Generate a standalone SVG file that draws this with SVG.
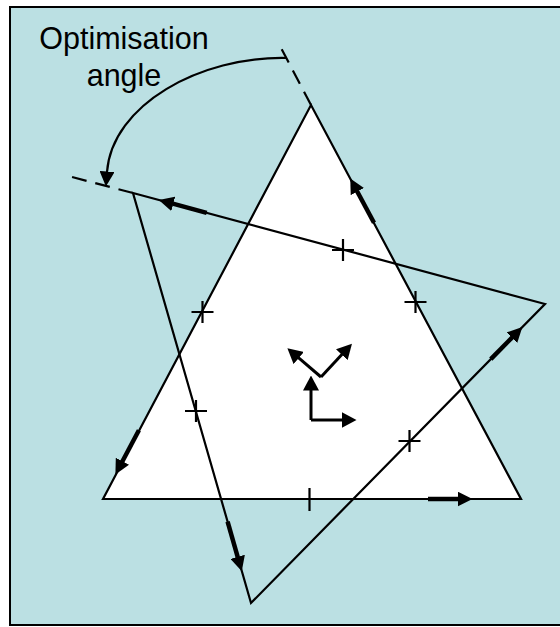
<svg xmlns="http://www.w3.org/2000/svg" width="560" height="627" viewBox="0 0 560 627">
<defs>
<style>
.edge{fill:none;stroke:#000;stroke-width:2.2;stroke-linejoin:miter}
.thick{fill:none;stroke:#000;stroke-width:4.5;marker-end:url(#ah)}
.axis{fill:none;stroke:#000;stroke-width:3;marker-end:url(#ax)}
.dash{fill:none;stroke:#000;stroke-width:2.2;stroke-dasharray:15 9}
.cross{fill:none;stroke:#000;stroke-width:2.2}
.lbl{font-family:"Liberation Sans",Arial,sans-serif;font-size:30.5px;fill:#000;text-anchor:middle}
</style>
<marker id="ah" viewBox="0 0 15 15" refX="0.5" refY="7.5" markerWidth="15" markerHeight="15" markerUnits="userSpaceOnUse" orient="auto">
<path d="M0,0L15,7.5L0,15z" fill="#000"/>
</marker>
<marker id="ax" viewBox="0 0 15 16" refX="0.5" refY="8" markerWidth="15" markerHeight="16" markerUnits="userSpaceOnUse" orient="auto">
<path d="M0,0L15,8L0,16z" fill="#000"/>
</marker>
</defs>
<rect id="frame" x="10" y="7" width="560" height="618" fill="#BBE0E3" stroke="#000" stroke-width="2"/>
<g id="original-triangle">
<polygon class="edge" points="103,499 311,105 521,499" style="fill:#fff"/>
</g>
<g id="rotated-triangle">
<polygon class="edge" points="133,193 545,304 251,603"/>
</g>
<g id="label">
<text class="lbl" x="124" y="49">Optimisation</text>
<text class="lbl" x="124" y="86">angle</text>
</g>
<g id="crosses">
<path class="cross" d="M332,250h22M343,239v22"/>
<path class="cross" d="M404.5,302h22M415.5,291v22"/>
<path class="cross" d="M191.5,312h22M202.5,301v22"/>
<path class="cross" d="M185,411h22M196,400v22"/>
<path class="cross" d="M398.5,441h22M409.5,430v22"/>
<path class="cross" d="M298,499h23M309.5,488v23"/>
</g>
<g id="axes">
<path class="axis" d="M321,377L298.4,357.7"/>
<path class="axis" d="M321,377L342.1,354.3"/>
<path class="axis" d="M311,420L311,390"/>
<path class="axis" d="M311,420L342,420"/>
</g>
<g id="connectors">
<path class="dash" d="M311,105L279.5,45"/>
<path class="dash" d="M133,193L68,176"/>
<path d="M287,58C200,56 112,105 107,172" fill="none" stroke="#000" stroke-width="2.2" marker-end="url(#ah)"/>
<path class="thick" d="M428,499L458,499"/>
<path class="thick" d="M374,222.8L357.1,191.2"/>
<path class="thick" d="M138.9,430.3L122.2,461.7"/>
<path class="thick" d="M206.7,212.9L172.8,203.7"/>
<path class="thick" d="M227.6,521.7L237.8,557.3"/>
<path class="thick" d="M490.8,359.1L512.2,337.4"/>
</g>
</svg>
